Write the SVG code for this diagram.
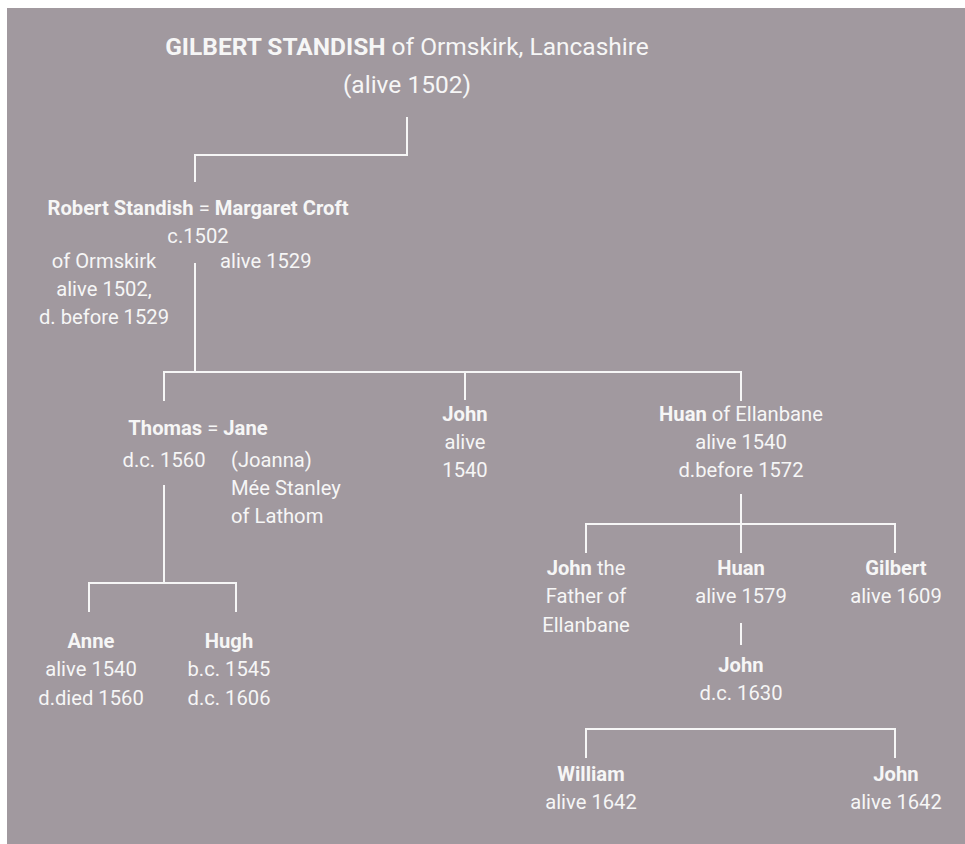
<svg xmlns="http://www.w3.org/2000/svg" width="965" height="844" viewBox="0 0 965 844">
<style>
text{font-family:Roboto,"Liberation Sans",sans-serif;font-size:20.2px;fill:#f6f6f6;text-anchor:middle}
.b{font-weight:bold}
.l{text-anchor:start}
.t{font-size:24.5px}
.c{fill:none;stroke:#f6f6f6;stroke-width:2}
</style>
<rect x="7" y="8" width="958" height="836" fill="#a1999f"/>
<g id="connectors" class="c">
<path d="M407,117 V155 H195 V182"/>
<path d="M195,263 V372"/>
<path d="M164,401 V372 H741 V401"/>
<path d="M465,372 V400"/>
<path d="M164,485 V583"/>
<path d="M89,612 V583 H236 V612"/>
<path d="M741,494 V553"/>
<path d="M586,553 V524 H895 V553"/>
<path d="M741,623 V645"/>
<path d="M586,758 V729 H895 V758"/>
</g>
<g id="gilbert">
<text class="t" x="407" y="55"><tspan class="b">GILBERT STANDISH</tspan> of Ormskirk, Lancashire</text>
<text class="t" x="407" y="93">(alive 1502)</text>
</g>
<g id="robert">
<text x="198" y="215"><tspan class="b">Robert Standish</tspan> = <tspan class="b">Margaret Croft</tspan></text>
<text x="198" y="243">c.1502</text>
<text x="104" y="268">of Ormskirk</text>
<text x="104" y="296">alive 1502,</text>
<text x="104" y="324">d. before 1529</text>
<text class="l" x="220" y="268">alive 1529</text>
</g>
<g id="thomas">
<text x="198" y="435"><tspan class="b">Thomas</tspan> = <tspan class="b">Jane</tspan></text>
<text x="164" y="467">d.c. 1560</text>
<text class="l" x="231" y="467">(Joanna)</text>
<text class="l" x="231" y="495">Mée Stanley</text>
<text class="l" x="231" y="523">of Lathom</text>
</g>
<g id="john1">
<text class="b" x="465" y="421">John</text>
<text x="465" y="449">alive</text>
<text x="465" y="477">1540</text>
</g>
<g id="huan1">
<text x="741" y="421"><tspan class="b">Huan</tspan> of Ellanbane</text>
<text x="741" y="449">alive 1540</text>
<text x="741" y="477">d.before 1572</text>
</g>
<g id="anne">
<text class="b" x="91" y="648">Anne</text>
<text x="91" y="676">alive 1540</text>
<text x="91" y="705">d.died 1560</text>
</g>
<g id="hugh">
<text class="b" x="229" y="648">Hugh</text>
<text x="229" y="676">b.c. 1545</text>
<text x="229" y="705">d.c. 1606</text>
</g>
<g id="john2">
<text x="586" y="575"><tspan class="b">John</tspan> the</text>
<text x="586" y="603">Father of</text>
<text x="586" y="632">Ellanbane</text>
</g>
<g id="huan2">
<text class="b" x="741" y="575">Huan</text>
<text x="741" y="603">alive 1579</text>
</g>
<g id="gilbert2">
<text class="b" x="896" y="575">Gilbert</text>
<text x="896" y="603">alive 1609</text>
</g>
<g id="john3">
<text class="b" x="741" y="672">John</text>
<text x="741" y="700">d.c. 1630</text>
</g>
<g id="william">
<text class="b" x="591" y="781">William</text>
<text x="591" y="809">alive 1642</text>
</g>
<g id="john4">
<text class="b" x="896" y="781">John</text>
<text x="896" y="809">alive 1642</text>
</g>
</svg>
